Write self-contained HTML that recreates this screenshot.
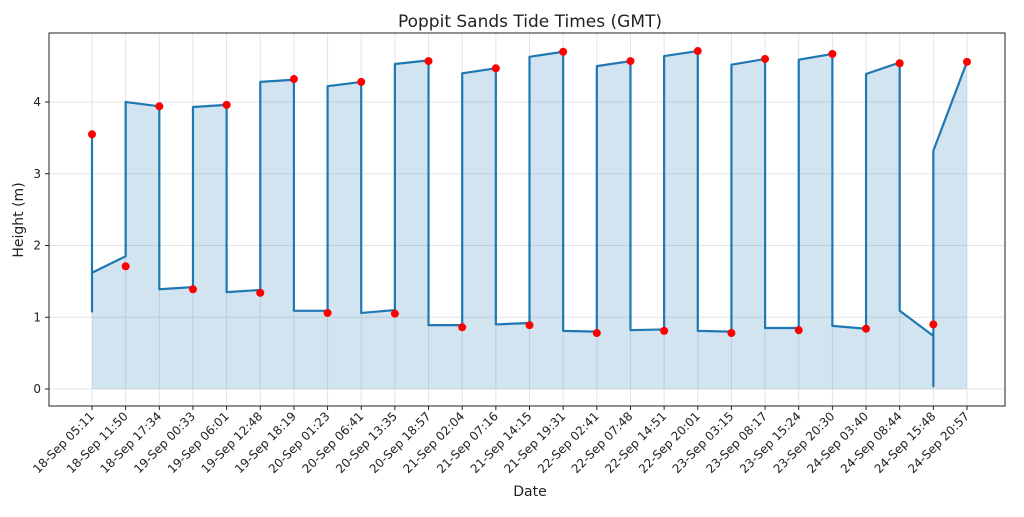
<!DOCTYPE html>
<html><head><meta charset="utf-8"><style>
body{margin:0;background:#fff}
svg text{font-family:"DejaVu Sans","Liberation Sans",sans-serif;fill:#222}
</style></head><body>
<svg id="chart" width="1024" height="512" xmlns="http://www.w3.org/2000/svg">
<text x="530" y="27" text-anchor="middle" font-size="17">Poppit Sands Tide Times (GMT)</text>
<g id="grid"></g>
<g id="fillg"></g>
<g id="lineg"></g>
<g id="ptsg"></g>
<rect x="49" y="33" width="956" height="373" fill="none" stroke="#222" stroke-width="1"/>
<g id="xticks"></g>
<g id="yticks"></g>
<text x="530" y="496" text-anchor="middle" font-size="14">Date</text>
<text transform="translate(23,220) rotate(-90)" text-anchor="middle" font-size="14">Height (m)</text>
</svg>
<script>
const categories=["18-Sep 05:11","18-Sep 11:50","18-Sep 17:34","19-Sep 00:33","19-Sep 06:01","19-Sep 12:48","19-Sep 18:19","20-Sep 01:23","20-Sep 06:41","20-Sep 13:35","20-Sep 18:57","21-Sep 02:04","21-Sep 07:16","21-Sep 14:15","21-Sep 19:31","22-Sep 02:41","22-Sep 07:48","22-Sep 14:51","22-Sep 20:01","23-Sep 03:15","23-Sep 08:17","23-Sep 15:24","23-Sep 20:30","24-Sep 03:40","24-Sep 08:44","24-Sep 15:48","24-Sep 20:57"];
const tideHeights=[3.55,1.71,3.94,1.39,3.96,1.34,4.32,1.06,4.28,1.05,4.57,0.86,4.47,0.89,4.70,0.78,4.57,0.81,4.71,0.78,4.60,0.82,4.67,0.84,4.54,0.90,4.56];
const lineIdx=[0,0,0,1,1,2,2,3,3,4,4,5,5,6,6,7,7,8,8,9,9,10,10,11,11,12,12,13,13,14,14,15,15,16,16,17,17,18,18,19,19,20,20,21,21,22,22,23,23,24,24,25,25,25,26];
const lineVals=[3.55,1.08,1.62,1.85,4.0,3.94,1.39,1.42,3.93,3.96,1.35,1.38,4.28,4.31,1.09,1.09,4.22,4.28,1.06,1.10,4.53,4.58,0.89,0.89,4.40,4.47,0.90,0.92,4.63,4.70,0.81,0.80,4.50,4.57,0.82,0.83,4.64,4.71,0.81,0.80,4.52,4.60,0.85,0.85,4.59,4.67,0.88,0.84,4.39,4.55,1.09,0.74,0.04,3.32,4.56];
const yTicks=[0,1,2,3,4];
const NS="http://www.w3.org/2000/svg";
const X0=92,X1=967,Y0=389,YS=71.75;
const n=categories.length;
function xs(i){return X0+(X1-X0)*i/(n-1);}
function ys(v){return Y0-v*YS;}
function mk(tag,attrs,parent){const e=document.createElementNS(NS,tag);for(const k in attrs)e.setAttribute(k,attrs[k]);parent.appendChild(e);return e;}
const grid=document.getElementById('grid'),xt=document.getElementById('xticks'),yt=document.getElementById('yticks');
categories.forEach((c,i)=>{
  const x=xs(i);
  const g=mk('line',{x1:x,x2:x,y1:33,y2:406,stroke:'#e4e4e4','stroke-width':1},grid);
  
  
  const t=mk('line',{x1:x,x2:x,y1:406,y2:410,stroke:'#222'},xt);
  
  
  const l=mk('text',{transform:`translate(${x+3},417) rotate(-45)`,'text-anchor':'end','font-size':'12'},xt);
  l.textContent=c;
  
  
});
yTicks.forEach(v=>{
  const y=ys(v);
  const g=mk('line',{x1:49,x2:1005,y1:y,y2:y,stroke:'#e4e4e4'},grid);
  
  
  const t=mk('line',{x1:45,x2:49,y1:y,y2:y,stroke:'#222'},yt);
  
  
  const l=mk('text',{x:41,y:y+4,'text-anchor':'end','font-size':'12'},yt);
  l.textContent=v;
  
  
});
let pts=lineIdx.map((i,k)=>xs(i)+','+ys(lineVals[k]));
const fillPts=[xs(lineIdx[0])+','+ys(0)].concat(pts.slice(2)).concat([xs(lineIdx[lineIdx.length-1])+','+ys(0)]);
const f=mk('polygon',{points:fillPts.join(' '),fill:'#1f77b4','fill-opacity':0.2},document.getElementById('fillg'));


const ln=mk('polyline',{points:pts.join(' '),fill:'none',stroke:'#1f77b4','stroke-width':2.2,'stroke-linejoin':'round'},document.getElementById('lineg'));


tideHeights.forEach((v,i)=>{
  const c=mk('circle',{cx:xs(i),cy:ys(v),r:4,fill:'#ff0000'},document.getElementById('ptsg'));
  
  
});
</script>
</body></html>
